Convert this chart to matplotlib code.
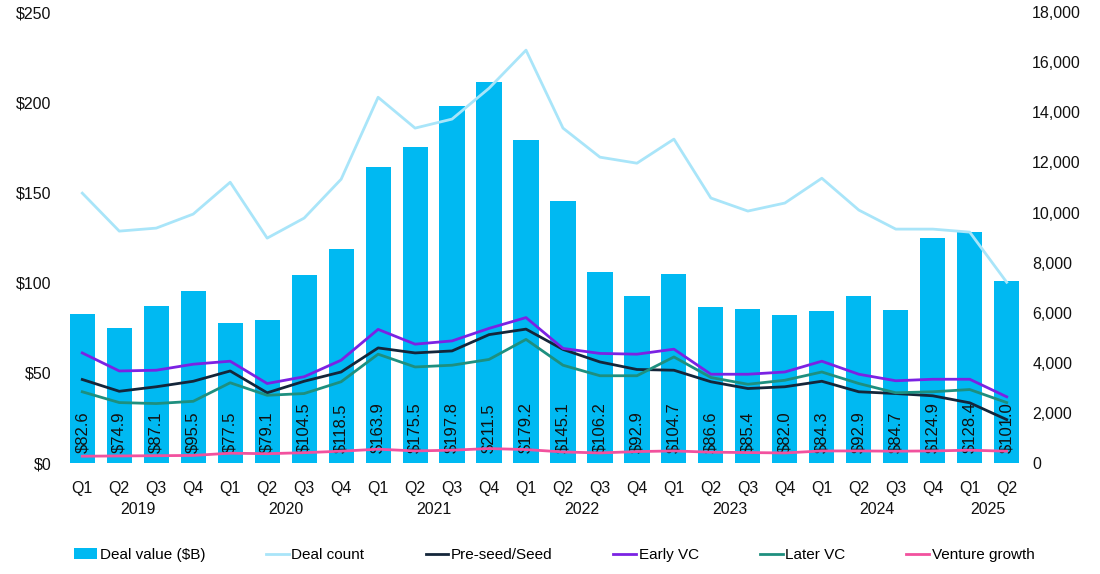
import numpy as np
import matplotlib
matplotlib.use("Agg")
import matplotlib.pyplot as plt
from matplotlib.ticker import FuncFormatter, MultipleLocator

plt.rcParams['font.family'] = ['Liberation Sans', 'DejaVu Sans']

quarters = ['Q1', 'Q2', 'Q3', 'Q4'] * 6 + ['Q1', 'Q2']
years = ['2019', '2020', '2021', '2022', '2023', '2024', '2025']

deal_value = [82.6, 74.9, 87.1, 95.5, 77.5, 79.1, 104.5, 118.5,
              163.9, 175.5, 197.8, 211.5, 179.2, 145.1, 106.2, 92.9,
              104.7, 86.6, 85.4, 82.0, 84.3, 92.9, 84.7, 124.9,
              128.4, 101.0]

deal_count = [10775, 9260, 9380, 9940, 11210, 8980, 9780, 11330,
              14600, 13370, 13730, 14960, 16480, 13370, 12210, 11970,
              12930, 10580, 10060, 10380, 11370, 10100, 9340, 9340,
              9220, 7220]

pre_seed = [3340, 2870, 3050, 3270, 3680, 2810, 3270, 3640,
            4600, 4400, 4480, 5130, 5350, 4540, 4040, 3740,
            3710, 3250, 2980, 3050, 3270, 2850, 2780, 2690,
            2410, 1740]

early_vc = [4400, 3680, 3710, 3950, 4070, 3180, 3450, 4110,
            5340, 4750, 4880, 5380, 5810, 4580, 4380, 4350,
            4550, 3550, 3550, 3640, 4070, 3550, 3290, 3350,
            3350, 2650]

later_vc = [2850, 2420, 2380, 2470, 3210, 2710, 2780, 3250,
            4350, 3840, 3910, 4140, 4940, 3910, 3490, 3490,
            4240, 3420, 3150, 3310, 3640, 3180, 2810, 2850,
            2940, 2420]

venture_growth = [280, 290, 300, 310, 400, 380, 420, 480,
                  560, 490, 520, 585, 545, 450, 410, 465,
                  490, 440, 425, 410, 490, 490, 480, 490,
                  520, 480]

x = np.arange(len(deal_value))

fig = plt.figure(figsize=(11, 5.74), dpi=100)
ax = fig.add_axes([0.058, 0.193, 0.874, 0.786])
ax2 = ax.twinx()

ax.bar(x, deal_value, width=0.68, color='#00B9F2', label='Deal value ($B)', zorder=1)
for xi, v in zip(x, deal_value):
    ax.text(xi, 5.5, f'${v:.1f}', rotation=90, ha='center', va='bottom',
            fontsize=12, color='#111111', zorder=3)

lw = 2.0
ax2.plot(x, deal_count, color='#A9E5F9', lw=lw, label='Deal count')
ax2.plot(x, pre_seed, color='#14263A', lw=lw, label='Pre-seed/Seed')
ax2.plot(x, early_vc, color='#7B22E3', lw=lw, label='Early VC')
ax2.plot(x, later_vc, color='#1E8F7F', lw=lw, label='Later VC')
ax2.plot(x, venture_growth, color='#F2519E', lw=lw, label='Venture growth')

ax.set_xlim(-0.5, len(x) - 0.5)
ax.set_ylim(0, 250)
ax2.set_ylim(0, 18000)
ax.yaxis.set_major_locator(MultipleLocator(50))
ax2.yaxis.set_major_locator(MultipleLocator(2000))
ax.yaxis.set_major_formatter(FuncFormatter(lambda v, p: f'${v:.0f}'))
ax2.yaxis.set_major_formatter(FuncFormatter(lambda v, p: f'{v:,.0f}'))

ax.set_xticks(x)
ax.set_xticklabels(quarters)
for a in (ax, ax2):
    for s in a.spines.values():
        s.set_visible(False)
    a.tick_params(length=0, labelsize=11.5, colors='#111111')
ax.tick_params(axis='x', pad=13)
ax.tick_params(axis='y', pad=9)
ax2.tick_params(axis='y', pad=5)

# year labels under the quarters
year_pos = [1.5, 5.5, 9.5, 13.5, 17.5, 21.5, 24.5]
for yp, yr in zip(year_pos, years):
    ax.text(yp, -0.103, yr, transform=ax.get_xaxis_transform(),
            ha='center', va='center', fontsize=11.5, color='#111111')

h1, l1 = ax.get_legend_handles_labels()
h2, l2 = ax2.get_legend_handles_labels()
fig.legend(h1 + h2, l1 + l2, loc='center', bbox_to_anchor=(0.504, 0.033), ncol=6,
           frameon=False, fontsize=11, handlelength=1.5, handletextpad=0.15,
           columnspacing=4.0)

fig.savefig('out.png', dpi=100)
